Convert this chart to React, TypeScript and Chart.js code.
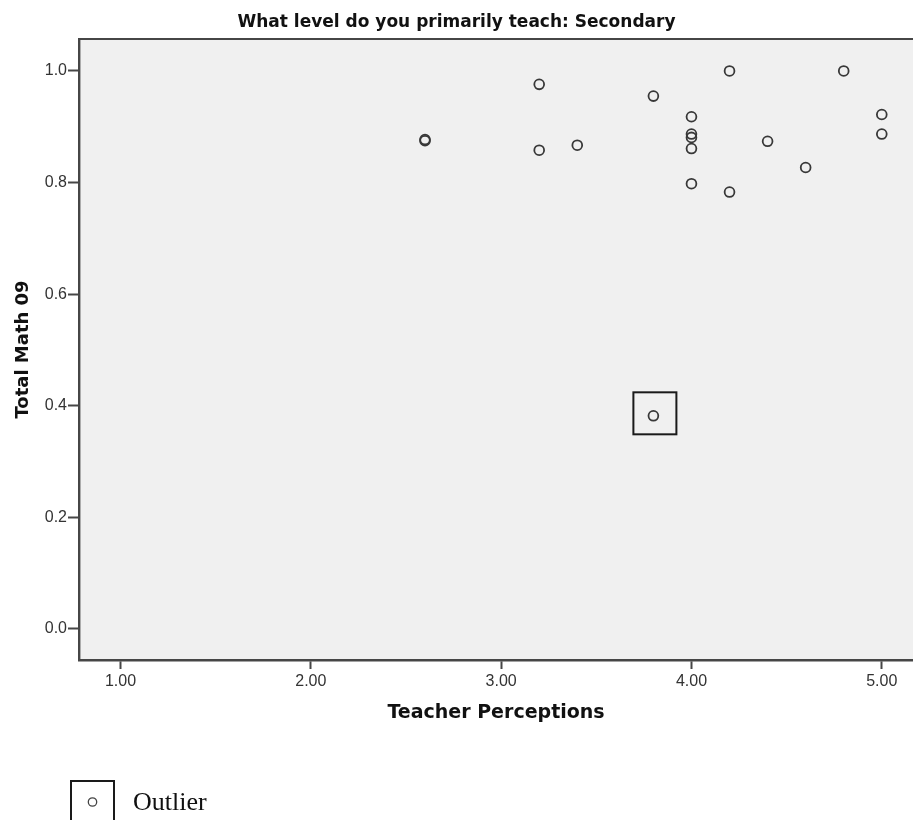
import React, { useEffect, useRef } from "react";
import { Chart, registerables } from "chart.js";

Chart.register(...registerables);

const chartTitle = "What level do you primarily teach: Secondary";
const xAxisTitle = "Teacher Perceptions";
const yAxisTitle = "Total Math 09";
const legendLabel = "Outlier";

const xTicks = [1, 2, 3, 4, 5];
const yTicks = [0, 0.2, 0.4, 0.6, 0.8, 1.0];

const perceptions = [2.6, 2.6, 3.2, 3.2, 3.4, 3.8, 4.0, 4.0, 4.0, 4.0, 4.0, 4.2, 4.2, 4.4, 4.6, 4.8, 5.0, 5.0];
const mathScores = [0.875, 0.877, 0.976, 0.858, 0.867, 0.955, 0.918, 0.887, 0.881, 0.861, 0.798, 1.0, 0.783, 0.874, 0.827, 1.0, 0.922, 0.887];

const outlierPerceptions = [3.8];
const outlierScores = [0.382];

const AXIS_COLOR = "#464646";
const POINT_COLOR = "#383838";

const decorPlugin = {
  id: "spssDecor",
  beforeDraw(chart: any) {
    const { ctx, chartArea } = chart;
    ctx.save();
    ctx.fillStyle = "#F0F0F0";
    ctx.fillRect(chartArea.left, chartArea.top, chartArea.right - chartArea.left, chartArea.bottom - chartArea.top);
    ctx.strokeStyle = AXIS_COLOR;
    ctx.lineWidth = 2;
    ctx.beginPath();
    ctx.moveTo(chartArea.left, chartArea.top);
    ctx.lineTo(chartArea.right, chartArea.top);
    ctx.stroke();
    ctx.restore();
  },
  afterDraw(chart: any) {
    const { ctx } = chart;
    ctx.save();
    // box around the outlier point(s)
    const meta = chart.getDatasetMeta(1);
    ctx.strokeStyle = "#1a1a1a";
    ctx.lineWidth = 2;
    meta.data.forEach((pt: any) => {
      ctx.strokeRect(pt.x - 20, pt.y - 23.5, 43, 42);
    });
    // legend
    ctx.strokeRect(71, 781, 43, 60);
    ctx.beginPath();
    ctx.lineWidth = 1.3;
    ctx.strokeStyle = "#444";
    ctx.arc(92.5, 802, 4.2, 0, Math.PI * 2);
    ctx.stroke();
    ctx.fillStyle = "#111";
    ctx.font = "26px 'Liberation Serif', 'Times New Roman', serif";
    ctx.textBaseline = "alphabetic";
    ctx.textAlign = "left";
    ctx.fillText(legendLabel, 133, 810);
    ctx.restore();
  },
};

export default function App() {
  const ref = useRef<HTMLCanvasElement | null>(null);

  useEffect(() => {
    document.body.style.margin = "0";
    if (!ref.current) return;
    const pointStyle = {
      pointStyle: "circle" as const,
      pointRadius: 4.9,
      pointHoverRadius: 4.9,
      pointBorderWidth: 1.8,
      pointBorderColor: POINT_COLOR,
      pointBackgroundColor: "rgba(0,0,0,0)",
      showLine: false,
    };
    const chart = new Chart(ref.current, {
      type: "scatter",
      data: {
        datasets: [
          {
            label: "Cases",
            data: perceptions.map((x, i) => ({ x, y: mathScores[i] })),
            ...pointStyle,
          },
          {
            label: legendLabel,
            data: outlierPerceptions.map((x, i) => ({ x, y: outlierScores[i] })),
            ...pointStyle,
          },
        ],
      },
      options: {
        animation: false,
        responsive: false,
        devicePixelRatio: 1,
        layout: { padding: 0, autoPadding: false },
        plugins: {
          legend: { display: false },
          tooltip: { enabled: false },
          title: {
            display: true,
            text: chartTitle,
            color: "#111",
            font: { family: "'DejaVu Sans'", size: 17, weight: "bold" },
            padding: { top: 12, bottom: 6.6 },
          },
        },
        scales: {
          x: {
            type: "linear",
            min: 0.782,
            max: 5.164,
            afterBuildTicks: (scale: any) => {
              scale.ticks = xTicks.map((v) => ({ value: v }));
            },
            afterFit: (scale: any) => {
              scale.height = 160;
              scale.paddingLeft = 0;
              scale.paddingRight = 0;
            },
            ticks: {
              color: "#333",
              font: { family: "'Liberation Sans', Arial", size: 16 },
              padding: 3,
              callback: (v: any) => Number(v).toFixed(2),
            },
            grid: {
              drawOnChartArea: false,
              drawTicks: true,
              tickLength: 9,
              tickWidth: 2,
              tickColor: AXIS_COLOR,
            },
            border: { display: true, color: AXIS_COLOR, width: 2.4 },
            title: {
              display: true,
              text: xAxisTitle,
              color: "#111",
              font: { family: "'DejaVu Sans'", size: 19, weight: "bold" },
              padding: { top: 0, bottom: 95.3 },
            },
          },
          y: {
            type: "linear",
            min: -0.0556,
            max: 1.0573,
            afterBuildTicks: (scale: any) => {
              scale.ticks = yTicks.map((v) => ({ value: v }));
            },
            afterFit: (scale: any) => {
              scale.width = 79;
              scale.paddingTop = 0;
              scale.paddingBottom = 0;
            },
            ticks: {
              color: "#333",
              font: { family: "'Liberation Sans', Arial", size: 16 },
              padding: 1,
              callback: (v: any) => Number(v).toFixed(1),
            },
            grid: {
              drawOnChartArea: false,
              drawTicks: true,
              tickLength: 11,
              tickWidth: 2,
              tickColor: AXIS_COLOR,
            },
            border: { display: true, color: AXIS_COLOR, width: 2.4 },
            title: {
              display: true,
              text: yAxisTitle,
              color: "#111",
              font: { family: "'DejaVu Sans'", size: 18, weight: "bold" },
              padding: { top: 12.5, bottom: 0 },
            },
          },
        },
      },
      plugins: [decorPlugin],
    });
    return () => chart.destroy();
  }, []);

  return (
    <div style={{ position: "relative", width: 913, height: 820 }}>
      <canvas ref={ref} width={913} height={820} style={{ display: "block", width: 913, height: 820 }} />
    </div>
  );
}
